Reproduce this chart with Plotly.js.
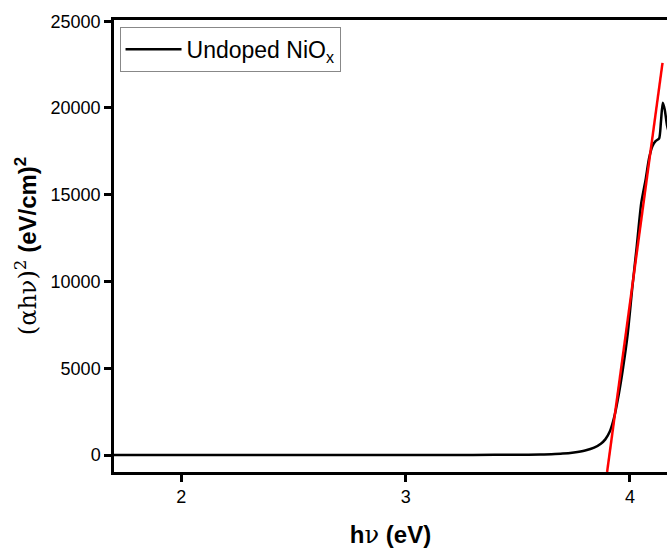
<!DOCTYPE html>
<html>
<head>
<meta charset="utf-8">
<script src="https://cdn.plot.ly/plotly-3.0.1.min.js"></script>
<style>html,body{margin:0;padding:0;background:#fff;}</style>
</head>
<body>
<div id="chart" style="width:667px;height:549px;"></div>
<script>
// Measured Tauc-plot data (hν in eV, (αhν)^2)
const photonEnergy = [1.70, 2.0, 2.5, 3.0, 3.3, 3.5, 3.6, 3.65, 3.70, 3.75, 3.80, 3.84, 3.87, 3.89, 3.91, 3.93, 3.95, 3.97, 3.99, 4.01, 4.03, 4.05, 4.07, 4.085, 4.10, 4.115, 4.13, 4.138, 4.146, 4.155, 4.165, 4.175];
const alphaHvSq   = [0, 0, 0, 0, 5, 15, 30, 45, 80, 150, 260, 420, 650, 900, 1350, 2200, 3500, 5100, 7000, 9600, 12000, 14500, 15900, 17100, 17800, 18100, 18250, 19200, 20300, 19900, 19000, 18500];
// Linear fit (band-gap extrapolation) end points
const fitX = [3.898, 4.145];
const fitY = [-980, 22600];

const seriesName = 'Undoped NiO<sub>x</sub>';
const xTickVals = [2, 3, 4];
const xMinorVals = [2.5, 3.5];
const yTickVals = [0, 5000, 10000, 15000, 20000, 25000];
const yMinorVals = [2500, 7500, 12500, 17500, 22500];

const traces = [
  {x: photonEnergy, y: alphaHvSq, type: 'scatter', mode: 'lines', name: seriesName,
   line: {color: '#000000', width: 2.5, shape: 'spline', smoothing: 0.6}},
  {x: fitX, y: fitY, type: 'scatter', mode: 'lines', showlegend: false,
   line: {color: '#ff0000', width: 2.5}}
];

const fam = 'Liberation Sans, Arial, sans-serif';
const xRange = [1.70, 4.165];
const yRange = [-980, 25070];
const tickOnly = (over, anchor, side, range, vals, len, w) => ({
  overlaying: over, anchor: anchor, side: side, range: range, tickmode: 'array', tickvals: vals,
  showticklabels: false, showgrid: false, zeroline: false, showline: false,
  ticks: 'outside', ticklen: len, tickwidth: w, tickcolor: '#000'
});
const layout = {
  width: 667, height: 549,
  margin: {l: 114, r: 0, t: 20, b: 77},
  paper_bgcolor: '#fff', plot_bgcolor: '#fff',
  showlegend: true,
  legend: {x: 0.01, y: 0.985, xanchor: 'left', yanchor: 'top',
    bordercolor: '#888', borderwidth: 1, bgcolor: '#fff',
    itemwidth: 56, font: {family: fam, size: 23, color: '#000'}},
  xaxis: {
    range: xRange, tickmode: 'array', tickvals: xTickVals, tickformat: 'd',
    showgrid: false, zeroline: false, showline: true, linecolor: '#000', linewidth: 2.5,
    mirror: true, ticks: 'outside', ticklen: 7, tickwidth: 2.5, tickcolor: '#000',
    tickfont: {family: fam, size: 18, color: '#000'},
    title: {text: '<b>h</b><span style="font-family:DejaVu Serif">ν</span><b> (eV)</b>', standoff: 21,
      font: {family: fam, size: 24, color: '#000'}}
  },
  xaxis2: tickOnly('x', 'y', 'bottom', xRange, xTickVals, 7, 2.5),
  xaxis3: tickOnly('x', 'y', 'bottom', xRange, xMinorVals, 4, 2),
  yaxis: {
    range: yRange, tickmode: 'array', tickvals: yTickVals, tickformat: 'd',
    showgrid: false, zeroline: false, showline: true, linecolor: '#000', linewidth: 2.5,
    ticks: 'outside', ticklen: 7, tickwidth: 2.5, tickcolor: '#000',
    tickfont: {family: fam, size: 18, color: '#000'},
    title: {text: '<span style="font-family:DejaVu Serif">(αhν)<sup>2</sup></span> <b>(eV/cm)<sup>2</sup></b>', standoff: 8,
      font: {family: fam, size: 24, color: '#000'}}
  },
  yaxis2: tickOnly('y', 'x', 'left', yRange, yTickVals, 7, 2.5),
  yaxis3: tickOnly('y', 'x', 'left', yRange, yMinorVals, 4, 2)
};

Plotly.newPlot('chart', traces, layout, {displayModeBar: false});
</script>
</body>
</html>
